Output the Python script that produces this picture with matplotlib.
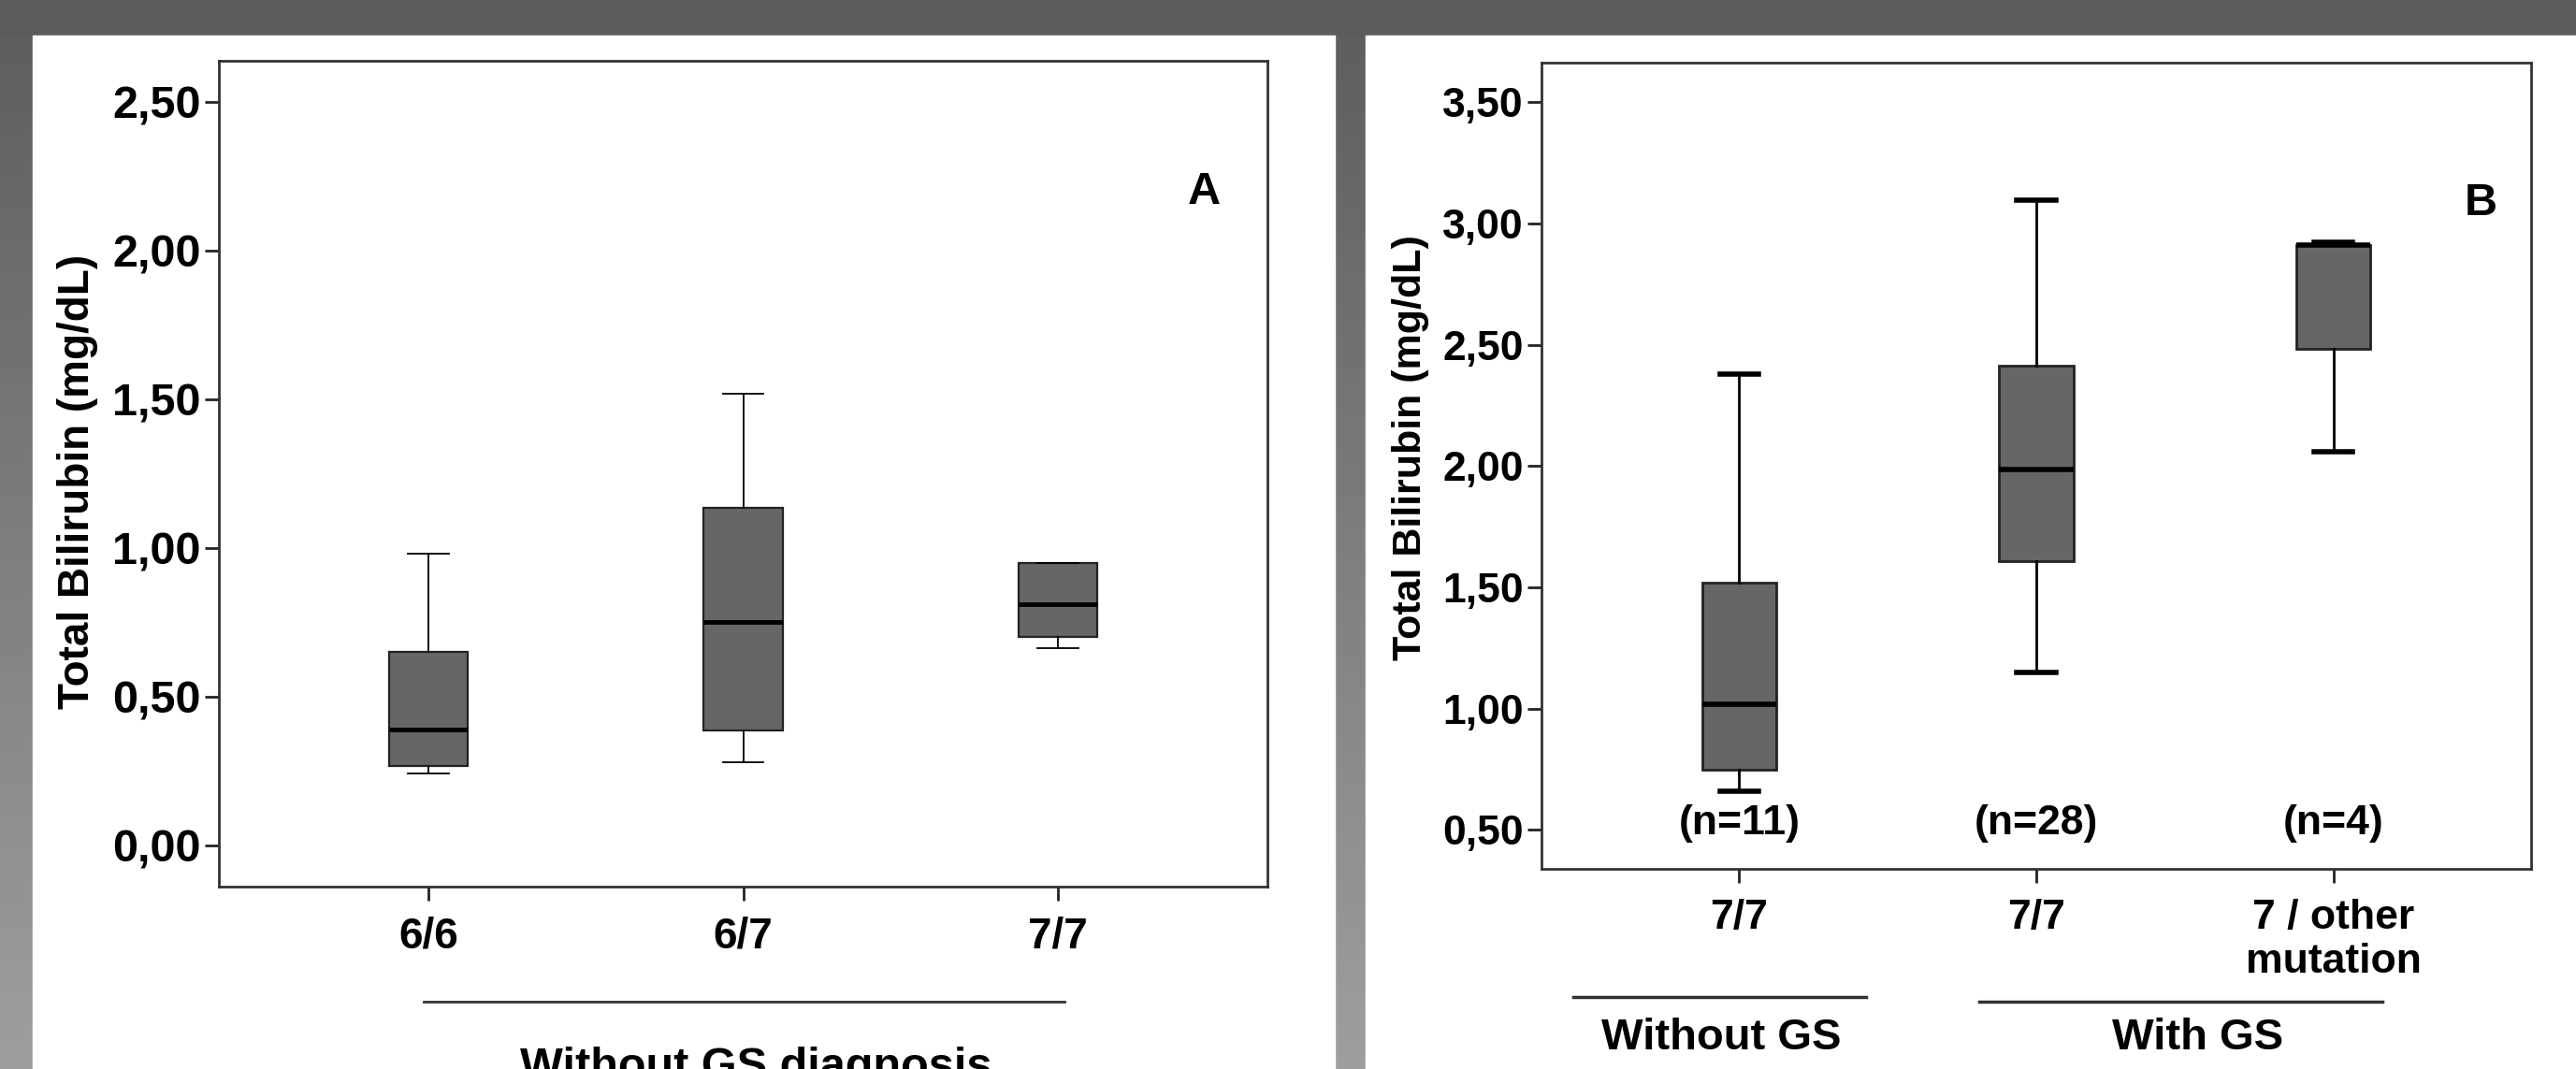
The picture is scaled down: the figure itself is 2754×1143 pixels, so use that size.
import numpy as np
import matplotlib
matplotlib.use("Agg")
import matplotlib.pyplot as plt
from matplotlib.lines import Line2D

# Panel A - without GS diagnosis
a_groups = ["6/6", "6/7", "7/7"]
a_whislo = [0.24, 0.28, 0.662]
a_q1 = [0.265, 0.385, 0.70]
a_med = [0.39, 0.75, 0.81]
a_q3 = [0.65, 1.133, 0.95]
a_whishi = [0.98, 1.518, 0.95]
a_yticks = [0.0, 0.5, 1.0, 1.5, 2.0, 2.5]
a_yticklabels = ["0,00", "0,50", "1,00", "1,50", "2,00", "2,50"]

# Panel B - without / with GS
b_groups = ["7/7", "7/7", "7 / other\nmutation"]
b_whislo = [0.66, 1.15, 2.058]
b_q1 = [0.748, 1.608, 2.482]
b_med = [1.018, 1.985, 2.91]
b_q3 = [1.521, 2.415, 2.91]
b_whishi = [2.378, 3.095, 2.922]
b_n = ["(n=11)", "(n=28)", "(n=4)"]
b_yticks = [0.5, 1.0, 1.5, 2.0, 2.5, 3.0, 3.5]
b_yticklabels = ["0,50", "1,00", "1,50", "2,00", "2,50", "3,00", "3,50"]

W, H = 2754, 1143
FONT = ["Liberation Sans", "DejaVu Sans"]

fig = plt.figure(figsize=(W / 100, H / 100), dpi=100)

# grey gradient frame behind the two white panels
bg = fig.add_axes([0, 0, 1, 1], zorder=-10)
grad = np.linspace(0.36, 0.62, 256).reshape(-1, 1)
bg.imshow(grad, cmap="gray", vmin=0, vmax=1, aspect="auto", extent=[0, 1, 0, 1])
bg.fill_between([0, 1], 1 - 38 / H, 1, color="#5c5c5c")
bg.fill_between([35 / W, 1427 / W], 0, 1 - 38 / H, color="white")
bg.fill_between([1460 / W, 1], 0, 1 - 38 / H, color="white")
bg.set_xlim(0, 1)
bg.set_ylim(0, 1)
bg.axis("off")


def stats(groups, lo, q1, med, q3, hi):
    return [dict(label=g, whislo=a, q1=b, med=c, q3=d, whishi=e, fliers=[])
            for g, a, b, c, d, e in zip(groups, lo, q1, med, q3, hi)]


def style_axes(ax, yticks, ylabels, tick_fs):
    for s in ax.spines.values():
        s.set_linewidth(2)
        s.set_color("#333333")
    ax.set_yticks(yticks)
    ax.set_yticklabels(ylabels, fontsize=tick_fs, fontweight="bold", family=FONT)
    ax.tick_params(axis="both", direction="out", length=11, width=2, color="#222222", pad=3)
    ax.set_facecolor("white")


# ---- Panel A ----
axA = fig.add_axes([234 / W, 1 - 948 / H, 1121 / W, 883 / H])
axA.bxp(stats(a_groups, a_whislo, a_q1, a_med, a_q3, a_whishi), positions=[1, 2, 3],
        widths=0.25, showfliers=False, patch_artist=True, capwidths=0.13,
        boxprops=dict(facecolor="#666666", edgecolor="#222222", linewidth=1.6),
        medianprops=dict(color="black", linewidth=3.5),
        whiskerprops=dict(color="black", linewidth=1.3),
        capprops=dict(color="black", linewidth=1.3))
axA.set_xlim(0.333, 3.667)
axA.set_ylim(-0.14, 2.638)
style_axes(axA, a_yticks, a_yticklabels, 35)
axA.set_xticks([1, 2, 3])
axA.set_xticklabels(a_groups, fontsize=33, fontweight="bold", family=FONT)
axA.tick_params(axis="x", pad=12)
axA.set_ylabel("Total Bilirubin (mg/dL)", fontsize=33, fontweight="bold", family=FONT)
axA.yaxis.set_label_coords(-0.115, 0.49)
axA.text(1287 / W, 1 - 205 / H, "A", transform=fig.transFigure, fontsize=35,
         fontweight="bold", family=FONT, ha="center", va="center")

fig.add_artist(Line2D([453 / W, 1138 / W], [1 - 1071 / H] * 2, color="#333333", lw=2))
fig.text(808 / W, 1 - 1142 / H, "Without GS diagnosis", fontsize=35, fontweight="bold",
         family=FONT, ha="center", va="center")

# ---- Panel B ----
axB = fig.add_axes([1648 / W, 1 - 929 / H, 1058 / W, 862 / H])
axB.bxp(stats(b_groups, b_whislo, b_q1, b_med, b_q3, b_whishi), positions=[1, 2, 3],
        widths=0.25, showfliers=False, patch_artist=True, capwidths=0.13,
        boxprops=dict(facecolor="#666666", edgecolor="#222222", linewidth=2),
        medianprops=dict(color="black", linewidth=4),
        whiskerprops=dict(color="black", linewidth=2),
        capprops=dict(color="black", linewidth=4))
axB.set_xlim(0.335, 3.665)
axB.set_ylim(0.34, 3.663)
style_axes(axB, b_yticks, b_yticklabels, 32)
axB.set_xticks([1, 2, 3])
axB.set_xticklabels(b_groups, fontsize=32, fontweight="bold", family=FONT,
                    linespacing=1.2, va="top")
axB.tick_params(axis="x", pad=12)
axB.set_ylabel("Total Bilirubin (mg/dL)", fontsize=31, fontweight="bold", family=FONT)
axB.yaxis.set_label_coords(-0.113, 0.523)
for x, lab in zip([1, 2, 3], b_n):
    axB.text(x, 0.528, lab, fontsize=32, fontweight="bold", family=FONT,
             ha="center", va="center")
axB.text(2652 / W, 1 - 218 / H, "B", transform=fig.transFigure, fontsize=35,
         fontweight="bold", family=FONT, ha="center", va="center")

fig.add_artist(Line2D([1682 / W, 1995 / W], [1 - 1066 / H] * 2, color="#333333", lw=2.5))
fig.add_artist(Line2D([2116 / W, 2547 / W], [1 - 1071 / H] * 2, color="#333333", lw=2.5))
fig.text(1840 / W, 1 - 1110 / H, "Without GS", fontsize=34, fontweight="bold",
         family=FONT, ha="center", va="center")
fig.text(2350 / W, 1 - 1110 / H, "With GS", fontsize=34, fontweight="bold",
         family=FONT, ha="center", va="center")

fig.savefig("out.png", dpi=100)
